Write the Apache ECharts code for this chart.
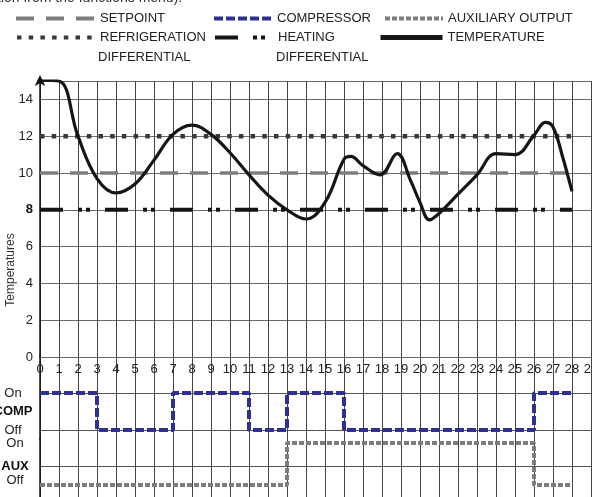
<!DOCTYPE html>
<html>
<head>
<meta charset="utf-8">
<script src="https://cdn.jsdelivr.net/npm/echarts@6/dist/echarts.min.js"></script>
<style>
	html, body { margin: 0; padding: 0; background: #fff; }
	#chart { width: 592px; height: 497px; }
</style>
</head>
<body>
<div id="chart"></div>
<script>
	// 温度曲线 (小时, °C)
	const tempTime = [0, 1, 2, 3, 4, 5, 6, 7, 8, 9, 10, 11, 12, 13, 14, 15, 16, 16.35, 17, 17.9, 18.8, 19.5, 20, 20.5, 21, 22, 23, 24, 25, 26, 26.6, 27, 27.5, 28];
	const tempValue = [15.05, 15.0, 12.0, 9.7, 8.92, 9.4, 10.7, 12.1, 12.6, 12.1, 11.1, 9.9, 8.8, 8.0, 7.5, 8.4, 10.75, 10.9, 10.4, 9.9, 11.05, 9.6, 8.4, 7.45, 7.8, 8.85, 9.9, 11.05, 11.0, 12.05, 12.75, 12.5, 10.9, 9.0];
	// 设定值与差值
	const setpoint = 10;
	const refDiff = 12;
	const heatDiff = 8;
	const lineSpan = [0, 28];
	// 压缩机 / 辅助输出 状态 (1 = On, 0 = Off)
	const compTime = [0, 3, 7, 11, 13, 16, 26, 28];
	const compState = [1, 0, 1, 0, 1, 0, 1, 1];
	const auxTime = [0, 13, 26, 28];
	const auxState = [0, 1, 0, 0];
	// 坐标轴
	const hourMax = 29;
	const tempMax = 15;
	const compLabelAt = [1, 0.5, 0];
	const compLabelText = ['On', '{b|COMP}', 'Off'];
	const auxLabelAt = [1, 0.45, 0.1];
	const auxLabelText = ['On', '{b|AUX}', 'Off'];

	const font = "'Liberation Sans', Arial, sans-serif";
	const pairs = (xs, ys) => xs.map((x, i) => [x, ys[i]]);
	const near = (a, b) => Math.abs(a - b) < 1e-6;
	// 分隔线颜色：只在指定的值上画线
	function splitColors(min, max, step, lines, color) {
		const arr = [];
		for (let k = 0; min + k * step <= max + 1e-9; k++) {
			const v = min + k * step;
			arr.push(lines.some(l => near(l, v)) ? color : 'rgba(0,0,0,0)');
		}
		return arr;
	}
	function labelFrom(at, text) {
		return v => {
			for (let i = 0; i < at.length; i++) {
				if (near(v, at[i])) return text[i];
			}
			return '';
		};
	}

	const myChart = echarts.init(document.getElementById('chart'));

	const baseX = {
		type: 'value', min: 0, max: hourMax, interval: 1,
		axisLine: { show: false }, axisTick: { show: false }, axisLabel: { show: false },
		splitLine: { show: true, lineStyle: { color: '#444', width: 1 } }
	};
	const legendBase = {
		padding: 0, itemHeight: 14,
		textStyle: { fontFamily: font, fontSize: 13, color: '#222' },
		lineStyle: { width: 4 },
		itemStyle: { color: 'rgba(0,0,0,0)', borderWidth: 0, opacity: 0 },
		selectedMode: false
	};

	const option = {
		animation: false,
		legend: [
			Object.assign({}, legendBase, { data: ['SETPOINT'], left: 14, top: 12, itemWidth: 79 }),
			Object.assign({}, legendBase, { data: ['COMPRESSOR'], left: 212, top: 12, itemWidth: 58 }),
			Object.assign({}, legendBase, { data: ['AUXILIARY OUTPUT'], left: 383, top: 12, itemWidth: 58 }),
			Object.assign({}, legendBase, { data: ['REFRIGERATION DIFFERENTIAL'], left: 15, top: 31, itemWidth: 78, formatter: () => 'REFRIGERATION' }),
			Object.assign({}, legendBase, { data: ['HEATING DIFFERENTIAL'], left: 213, top: 31, itemWidth: 58, formatter: () => 'HEATING' }),
			Object.assign({}, legendBase, { data: ['TEMPERATURE'], left: 378, top: 31, itemWidth: 62, lineStyle: { width: 5 } })
		],
		graphic: [
			{ type: 'text', x: -3, y: 5, style: { text: 'tion from the functions menu).', font: '14px ' + font, fill: '#333', verticalAlign: 'bottom' } },
			{ type: 'text', x: 98, y: 57, style: { text: 'DIFFERENTIAL', font: '13px ' + font, fill: '#222', verticalAlign: 'middle' } },
			{ type: 'text', x: 276, y: 57, style: { text: 'DIFFERENTIAL', font: '13px ' + font, fill: '#222', verticalAlign: 'middle' } },
			{ type: 'text', x: 11, y: 270, rotation: Math.PI / 2, style: { text: 'Temperatures', font: '12px ' + font, fill: '#333', align: 'center', verticalAlign: 'middle' } }
		],
		grid: [
			{ left: 40, right: 1, top: 81, height: 276, outerBoundsMode: 'none', containLabel: false },
			{ left: 40, right: 1, top: 356, height: 83.25, outerBoundsMode: 'none', containLabel: false },
			{ left: 40, right: 1, top: 438.8, height: 58.8, outerBoundsMode: 'none', containLabel: false }
		],
		xAxis: [
			Object.assign({}, baseX, {
				gridIndex: 0,
				axisLine: { show: true, lineStyle: { color: '#666', width: 1 } },
				axisLabel: { show: true, margin: 6, fontFamily: font, fontSize: 13, color: '#222' }
			}),
			Object.assign({}, baseX, { gridIndex: 1 }),
			Object.assign({}, baseX, { gridIndex: 2 })
		],
		yAxis: [
			{
				type: 'value', gridIndex: 0, min: 0, max: tempMax, interval: 2,
				axisLine: { show: true, symbol: ['none', 'arrow'], symbolSize: [8, 11], symbolOffset: [0, 6], lineStyle: { color: '#111', width: 1.5 } },
				axisTick: { show: false },
				axisLabel: {
					margin: 7, fontFamily: font, fontSize: 13, color: '#222',
					formatter: v => v === tempMax ? '' : (v === heatDiff ? '{b|' + v + '}' : String(v)),
					rich: { b: { fontFamily: font, fontSize: 13, fontWeight: 'bold', color: '#111' } }
				},
				splitLine: { show: true, lineStyle: { color: '#6a6a6a', width: 1.2 } }
			},
			{
				type: 'value', gridIndex: 1, min: -0.25, max: 2, interval: 0.25,
				axisLine: { show: true, lineStyle: { color: '#111', width: 1.5 } },
				axisTick: { show: false },
				axisLabel: {
					margin: 27, align: 'center', fontFamily: font, fontSize: 13, color: '#222',
					formatter: labelFrom(compLabelAt, compLabelText),
					rich: { b: { fontFamily: font, fontSize: 13, fontWeight: 'bold', color: '#111' } }
				},
				splitLine: { show: true, lineStyle: { color: splitColors(-0.25, 2, 0.25, [0, 1], '#555'), width: 1 } }
			},
			{
				type: 'value', gridIndex: 2, min: -0.3, max: 1.1, interval: 0.05,
				axisLine: { show: true, lineStyle: { color: '#111', width: 1.5 } },
				axisTick: { show: false },
				axisLabel: {
					margin: 25, align: 'center', fontFamily: font, fontSize: 13, color: '#222',
					formatter: labelFrom(auxLabelAt, auxLabelText),
					rich: { b: { fontFamily: font, fontSize: 13, fontWeight: 'bold', color: '#111' } }
				},
				splitLine: { show: true, lineStyle: { color: splitColors(-0.3, 1.1, 0.05, [0.45], '#555'), width: 1 } }
			}
		],
		series: [
			{
				name: 'SETPOINT', type: 'line', xAxisIndex: 0, yAxisIndex: 0, symbol: 'none',
				data: lineSpan.map(x => [x, setpoint]),
				lineStyle: { color: '#7d7d7d', width: 3.5, type: [18, 12], cap: 'butt' },
				itemStyle: { color: '#7d7d7d' }
			},
			{
				name: 'REFRIGERATION DIFFERENTIAL', type: 'line', xAxisIndex: 0, yAxisIndex: 0, symbol: 'none',
				data: lineSpan.map(x => [x, refDiff]),
				lineStyle: { color: '#383838', width: 4.5, type: [4.5, 7.2], cap: 'butt' },
				itemStyle: { color: '#383838' }
			},
			{
				name: 'HEATING DIFFERENTIAL', type: 'line', xAxisIndex: 0, yAxisIndex: 0, symbol: 'none',
				data: lineSpan.map(x => [x, heatDiff]),
				lineStyle: { color: '#151515', width: 4, type: [23, 15, 4, 4, 4, 15], cap: 'butt' },
				itemStyle: { color: '#151515' }
			},
			{
				name: 'TEMPERATURE', type: 'line', xAxisIndex: 0, yAxisIndex: 0, symbol: 'none',
				smooth: 0.4,
				data: pairs(tempTime, tempValue),
				lineStyle: { color: '#151515', width: 3.2 },
				itemStyle: { color: '#151515' }
			},
			{
				name: 'COMPRESSOR', type: 'line', xAxisIndex: 1, yAxisIndex: 1, symbol: 'none',
				step: 'end',
				data: pairs(compTime, compState),
				lineStyle: { color: '#2e3192', width: 4, type: [9, 3], cap: 'butt' },
				itemStyle: { color: '#2e3192' }
			},
			{
				name: 'AUXILIARY OUTPUT', type: 'line', xAxisIndex: 2, yAxisIndex: 2, symbol: 'none',
				step: 'end',
				data: pairs(auxTime, auxState),
				lineStyle: { color: '#7d7d7d', width: 4, type: [5, 2], cap: 'butt' },
				itemStyle: { color: '#7d7d7d' }
			}
		]
	};
	myChart.setOption(option);
	window.addEventListener('resize', function () {
		myChart.resize();
	});
</script>
</body>
</html>
